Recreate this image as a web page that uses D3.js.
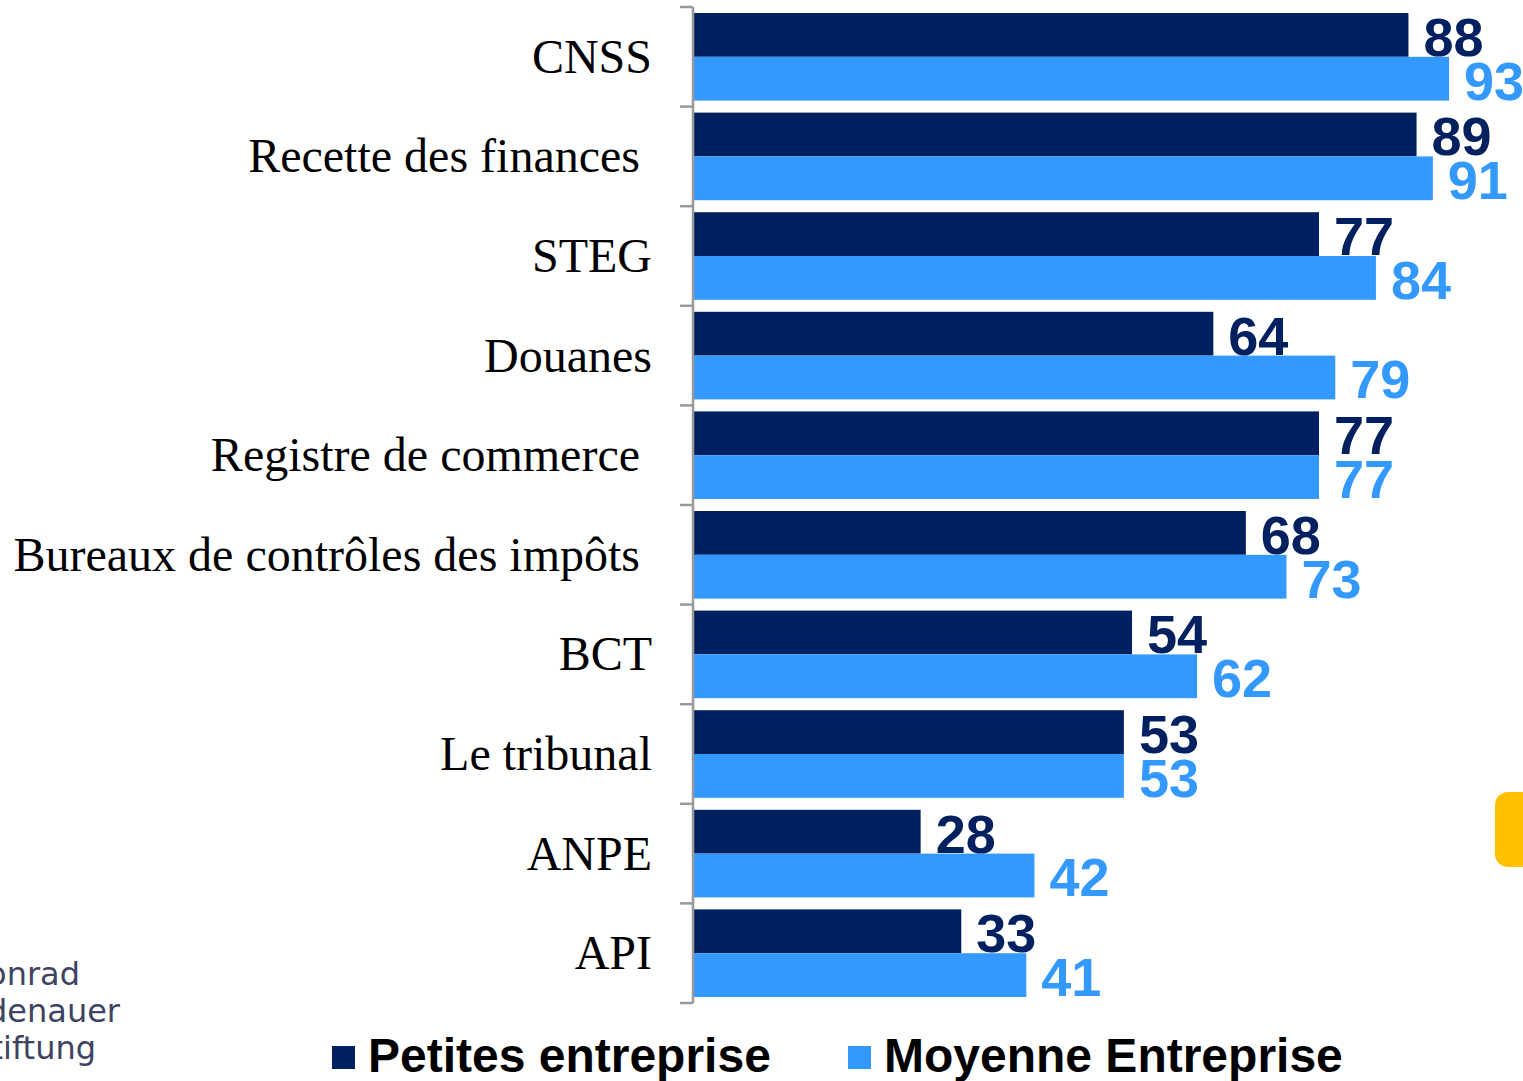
<!DOCTYPE html>
<html>
<head>
  <meta charset="UTF-8">
  <title>Administrations</title>
  <script src="https://d3js.org/d3.v7.min.js"></script>
  <style>
    body { margin: 0; background: #fff; }
    svg { display: block; }
  </style>
</head>
<body>
<svg id="chart" width="1523" height="1081"></svg>
<script>
// Data
var categories = ["CNSS", "Recette des finances ", "STEG", "Douanes", "Registre de commerce ",
  "Bureaux de contrôles des impôts ", "BCT", "Le tribunal", "ANPE", "API"];
var seriesNames = ["Petites entreprise", "Moyenne Entreprise"];
var petites = [88, 89, 77, 64, 77, 68, 54, 53, 28, 33];
var moyennes = [93, 91, 84, 79, 77, 73, 62, 53, 42, 41];
var colors = ["#002060", "#3399FF"];

var svg = d3.select("#chart");

var x = d3.scaleLinear().domain([0, 100]).range([693, 1506]);
var y0 = d3.scaleBand().domain(categories).range([7, 1003]).padding(0);
var y1 = d3.scaleBand().domain(seriesNames).range([6, y0.bandwidth() - 6]).padding(0);

// orange tab on the right edge
svg.append("rect")
  .attr("x", 1495).attr("y", 792).attr("width", 60).attr("height", 75)
  .attr("rx", 13).attr("fill", "#FFC000");

// bars
var rows = categories.map(function(c, i) {
  return { cat: c, vals: [petites[i], moyennes[i]] };
});

var g = svg.selectAll("g.row")
  .data(rows)
  .enter().append("g")
  .attr("class", "row")
  .attr("transform", function(d) { return "translate(0," + y0(d.cat) + ")"; });

g.selectAll("rect")
  .data(function(d) { return d.vals.map(function(v, j) { return { v: v, s: seriesNames[j], j: j }; }); })
  .enter().append("rect")
  .attr("x", x(0))
  .attr("y", function(d) { return y1(d.s); })
  .attr("width", function(d) { return x(d.v) - x(0); })
  .attr("height", y1.bandwidth())
  .attr("fill", function(d) { return colors[d.j]; });

g.selectAll("text.val")
  .data(function(d) { return d.vals.map(function(v, j) { return { v: v, s: seriesNames[j], j: j }; }); })
  .enter().append("text")
  .attr("class", "val")
  .attr("x", function(d) { return x(d.v) + 15; })
  .attr("y", function(d) { return y1(d.s) + y1.bandwidth() - 1; })
  .attr("fill", function(d) { return colors[d.j]; })
  .style("font-family", "'Liberation Sans', Arial, sans-serif")
  .style("font-weight", "bold")
  .style("font-size", "54px")
  .text(function(d) { return d.v; });

// category labels
svg.selectAll("text.cat")
  .data(categories)
  .enter().append("text")
  .attr("class", "cat")
  .attr("x", 652)
  .attr("y", function(d) { return y0(d) + y0.bandwidth() / 2 + 16; })
  .attr("text-anchor", "end")
  .style("white-space", "pre")
  .style("font-family", "'Liberation Serif', 'Times New Roman', serif")
  .style("font-size", "48px")
  .attr("fill", "#000")
  .text(function(d) { return d; });

// axis with ticks at band boundaries
var axisG = svg.append("g");
axisG.append("line")
  .attr("x1", 693).attr("x2", 693)
  .attr("y1", y0.range()[0]).attr("y2", y0.range()[1])
  .attr("stroke", "#999").attr("stroke-width", 2.5);
var bounds = categories.map(function(c) { return y0(c); }).concat([y0.range()[1]]);
axisG.selectAll("line.tick")
  .data(bounds)
  .enter().append("line")
  .attr("class", "tick")
  .attr("x1", 680).attr("x2", 693)
  .attr("y1", function(d) { return d; }).attr("y2", function(d) { return d; })
  .attr("stroke", "#999").attr("stroke-width", 2.5);

// legend
var legendX = [332, 848];
var lg = svg.selectAll("g.legend")
  .data(seriesNames)
  .enter().append("g")
  .attr("class", "legend")
  .attr("transform", function(d, i) { return "translate(" + legendX[i] + ",1046)"; });
lg.append("rect")
  .attr("width", 23).attr("height", 23)
  .attr("fill", function(d, i) { return colors[i]; });
lg.append("text")
  .attr("x", 36).attr("y", 26)
  .style("font-family", "'Liberation Sans', Arial, sans-serif")
  .style("font-weight", "bold")
  .style("font-size", "48px")
  .attr("fill", "#000")
  .text(function(d) { return d; });

// partial logo at bottom left
var logoLines = [["Konrad", 80, 985], ["Adenauer", 120, 1022], ["Stiftung", 96, 1059]];
svg.selectAll("text.logo")
  .data(logoLines)
  .enter().append("text")
  .attr("class", "logo")
  .attr("x", function(d) { return d[1]; })
  .attr("y", function(d) { return d[2]; })
  .attr("text-anchor", "end")
  .style("font-family", "'DejaVu Sans', sans-serif")
  .style("font-size", "32px")
  .attr("fill", "#3e4362")
  .text(function(d) { return d[0]; });
</script>
</body>
</html>
